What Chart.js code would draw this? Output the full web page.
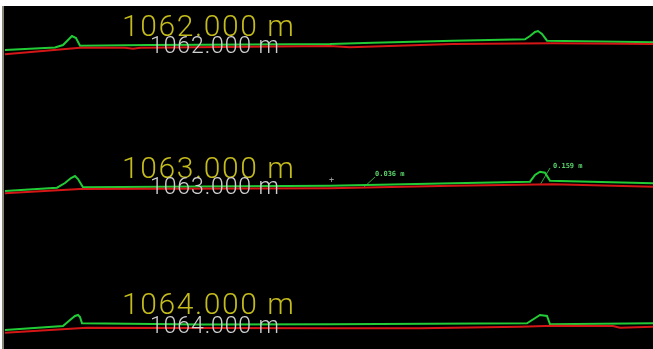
<!DOCTYPE html>
<html>
<head>
<meta charset="utf-8">
<script src="https://cdn.jsdelivr.net/npm/chart.js@4.4.1/dist/chart.umd.min.js"></script>
<style>
  html, body { margin: 0; padding: 0; background: #ffffff; width: 653px; height: 349px; overflow: hidden; }
  #frame { position: absolute; left: 2px; top: 6px; width: 651px; height: 343px; background: #000; border-left: 2px solid #8c8678; }
  .pane { position: absolute; left: 5px; width: 648px; height: 115px; }
  .lbl { position: absolute; white-space: pre; font-family: Roboto, "Liberation Sans", Arial, sans-serif; line-height: 1; }
  .big { font-size: 30px; font-weight: 300; color: #c4bb1c; letter-spacing: 1.6px; }
  .sub { font-size: 23px; font-weight: 300; color: #d0d0d0; letter-spacing: 0.9px; }
  .tiny { font-size: 7px; font-weight: bold; color: #5ad26a; font-family: "DejaVu Sans Mono", monospace; }
  .cross { font-size: 9px; color: #9a9a9a; }
</style>
</head>
<body>
<div id="frame"></div>
<div class="pane" style="top:5px"><canvas id="c1"></canvas></div>
<div class="pane" style="top:120px"><canvas id="c2"></canvas></div>
<div class="pane" style="top:235px"><canvas id="c3"></canvas></div>

<div class="lbl big" style="left:122px; top:11px">1062.000 m</div>
<div class="lbl sub" style="left:150px; top:34px">1062.000 m</div>
<div class="lbl big" style="left:122px; top:153px">1063.000 m</div>
<div class="lbl sub" style="left:150px; top:175px">1063.000 m</div>
<div class="lbl big" style="left:122px; top:289px">1064.000 m</div>
<div class="lbl sub" style="left:150px; top:314px">1064.000 m</div>
<div class="lbl tiny" style="left:375px; top:171px">0.036 m</div>
<div class="lbl tiny" style="left:553px; top:163px">0.159 m</div>
<div class="lbl cross" style="left:329px; top:176px">+</div>

<script>
// Section stations (labels)
const stations = ["1062.000 m", "1063.000 m", "1064.000 m"];

// Offsets along each cross-section and heights (relative units)
// Station 1062
const s1GroundX = [0, 50, 58, 63, 67, 71, 75, 145, 245, 325, 368, 448, 520, 525, 530, 533, 537, 542, 595, 648];
const s1GroundY = [70, 72.5, 75, 80, 84, 82, 74.3, 75, 75.5, 76, 77.3, 79.3, 80.7, 84, 88, 89, 86, 79.3, 78.5, 77.7];
const s1DesignX = [0, 75, 120, 128, 135, 325, 345, 448, 548, 648];
const s1DesignY = [65.7, 72.3, 72.3, 71.3, 72.3, 74, 72.7, 76, 76.7, 76];

// Station 1063
const s2GroundX = [0, 52, 60, 66, 70, 73, 78, 195, 325, 448, 525, 530, 535, 540, 545, 648];
const s2GroundY = [44, 47.3, 52, 57, 59, 56, 47.7, 48.5, 49.3, 51.7, 53.3, 60, 63.3, 62.3, 54.3, 51.7];
const s2DesignX = [0, 75, 325, 448, 548, 648];
const s2DesignY = [41.7, 46, 46.7, 49.3, 50.7, 48.3];

// Station 1064
const s3GroundX = [0, 58, 65, 70, 73, 75, 77, 195, 325, 522, 535, 542, 545, 648];
const s3GroundY = [20, 24, 30, 34, 35, 33, 26.7, 25.5, 25.7, 26.7, 35, 34, 25.7, 26.7];
const s3DesignX = [0, 82, 325, 415, 515, 548, 608, 615, 648];
const s3DesignY = [17.3, 22.3, 21.7, 21.7, 23.3, 24.3, 24, 22.3, 23.3];

// Leader lines for the small measurements on station 1063
const leader1X = [358, 370];
const leader1Y = [47, 58];
const leader2X = [535, 545];
const leader2Y = [50, 67];

const GREEN = "#22cc36";
const RED = "#d41616";

function pts(xs, ys) { return xs.map((x, i) => ({ x: x, y: ys[i] })); }

function makeChart(id, ground, design, extra) {
  const datasets = [
    { data: design, borderColor: RED, borderWidth: 2 },
    { data: ground, borderColor: GREEN, borderWidth: 2 }
  ];
  (extra || []).forEach(d => datasets.push({ data: d, borderColor: "#2aa83a", borderWidth: 1 }));
  new Chart(document.getElementById(id), {
    type: "line",
    data: { datasets: datasets },
    options: {
      responsive: true,
      maintainAspectRatio: false,
      animation: false,
      layout: { padding: 0 },
      elements: { point: { radius: 0 }, line: { tension: 0 } },
      plugins: { legend: { display: false }, tooltip: { enabled: false } },
      scales: {
        x: { type: "linear", min: 0, max: 648, display: false },
        y: { type: "linear", min: 0, max: 115, display: false }
      }
    }
  });
}

makeChart("c1", pts(s1GroundX, s1GroundY), pts(s1DesignX, s1DesignY));
makeChart("c2", pts(s2GroundX, s2GroundY), pts(s2DesignX, s2DesignY),
  [pts(leader1X, leader1Y), pts(leader2X, leader2Y)]);
makeChart("c3", pts(s3GroundX, s3GroundY), pts(s3DesignX, s3DesignY));
</script>
</body>
</html>
